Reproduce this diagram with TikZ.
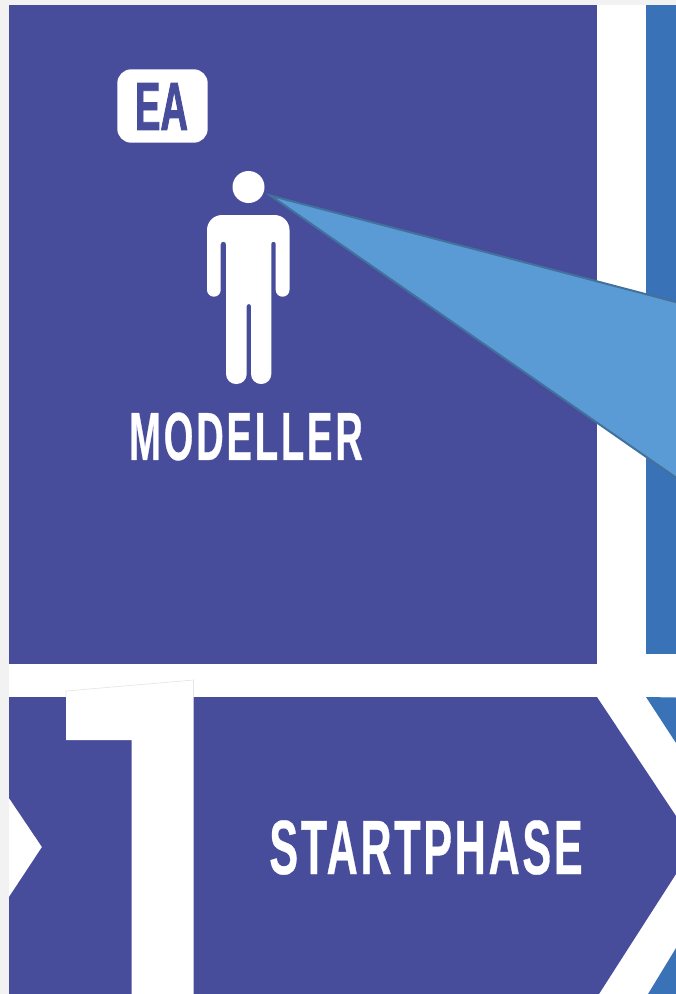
\documentclass[tikz,border=0pt]{standalone}
\usepackage{fontspec}
\newfontfamily\capfont[FakeStretch=0.56,LetterSpace=3.5,FakeBold=0.4]{Liberation Sans Bold}
\newfontfamily\modfont[FakeStretch=0.56,LetterSpace=4.2,FakeBold=0.4]{Liberation Sans Bold}
\newfontfamily\eafont[FakeStretch=0.56,FakeBold=1.2]{Liberation Sans Bold}
\definecolor{pagegrey}{HTML}{F2F2F2}
\definecolor{purpleband}{HTML}{484D9B}
\definecolor{blueband}{HTML}{3A72B8}
\definecolor{conefill}{HTML}{5B9BD5}
\definecolor{coneline}{HTML}{41719C}
\definecolor{numedge}{HTML}{E4E4E4}
\tikzset{
  captext/.style={text=white,inner sep=0pt,anchor=center,font=\capfont},
}
\begin{document}
\begin{tikzpicture}[x=1pt,y=-1pt]
\useasboundingbox (0,0) rectangle (676,994);
\fill[pagegrey] (0,0) rectangle (676,994);
\fill[white] (9,5) rectangle (676,994);
% top panels
\fill[purpleband] (9,5) rectangle (597,664);
\fill[blueband] (646,5) rectangle (676,654);
% lower chevron and neighbours
\fill[purpleband] (9,697) -- (597,697) -- (676,816) -- (676,874) -- (599,994) -- (9,994) -- (9,897) -- (42,847) -- (9,798) -- cycle;
\fill[blueband] (646,697) -- (676,743) -- (676,697.5) -- cycle;
\fill[blueband] (676,948) -- (676,994) -- (648,994) -- cycle;
% big numeral
\fill[white,draw=none] (66,691) -- (193.5,680) -- (193.5,994) -- (131.5,994) -- (131.5,740) -- (66,740) -- cycle;
\draw[numedge,line width=0.6pt] (66,697) -- (66,691) -- (193.5,680) -- (193.5,697);
% badge
\fill[white,rounded corners=14pt] (117.3,69.3) rectangle (207.7,142.7);
\node[captext,text=purpleband,font=\eafont\fontsize{68}{68}\selectfont] (ea) at (161.5,106.5) {EA};
% person
\fill[white] (248.5,187) circle[radius=16];
\fill[white] (207,250) [rounded corners=15pt] -- (207,215) -- (289.5,215) [rounded corners=6.8pt] -- (289.5,296.7) -- (275.7,296.7) [rounded corners=2.1pt] -- (275.7,241.7) -- (271.3,241.7) [rounded corners=10pt] -- (271.3,384) -- (251,384) [rounded corners=2.1pt] -- (251,304) -- (246.7,304) [rounded corners=10pt] -- (246.7,384) -- (226,384) [rounded corners=2.6pt] -- (226,241.7) -- (220.7,241.7) [rounded corners=6.8pt] -- (220.7,296.7) -- (207,296.7) [sharp corners] -- cycle;
% label
\node[captext,font=\modfont\fontsize{68}{68}\selectfont] (modeller) at (246,436.5) {MODELLER};
\node[captext,font=\capfont\fontsize{77}{77}\selectfont] (startphase) at (426,847.5) {STARTPHASE};
% sight cone
\filldraw[fill=conefill,draw=coneline,line width=2pt,line join=miter,miter limit=10] (270.5,195.6) -- (678,302.6) -- (678,479) -- cycle;
\end{tikzpicture}
\end{document}
